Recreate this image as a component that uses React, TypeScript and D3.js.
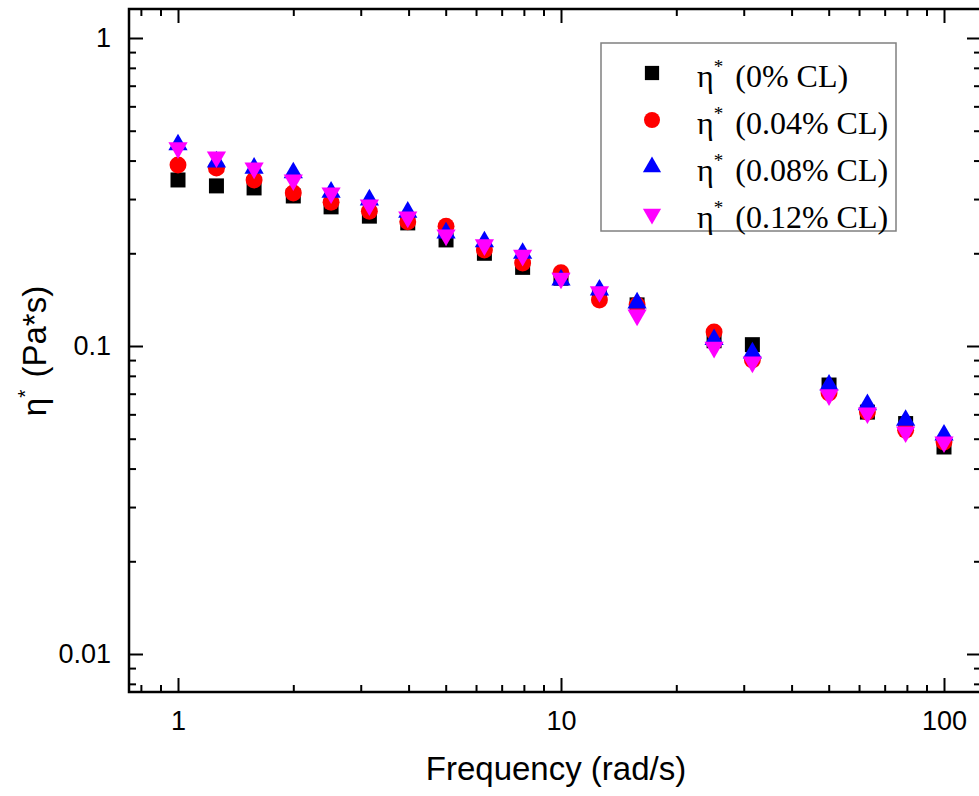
import React, { useRef, useEffect } from "react";
import * as d3 from "d3";

// angular frequency (rad/s)
const freq = [1, 1.26, 1.58, 2, 2.51, 3.16, 3.98, 5.01, 6.31, 7.94, 10, 12.6, 15.8, 25.1, 31.6, 50.1, 63.1, 79.4, 100];

// complex viscosity (Pa*s) per crosslinker content
const eta0 = [0.346, 0.331, 0.326, 0.307, 0.283, 0.264, 0.251, 0.221, 0.2, 0.18, 0.166, 0.146, 0.136, 0.104, 0.101, 0.0747, 0.061, 0.056, 0.047];
const eta004 = [0.387, 0.378, 0.346, 0.314, 0.293, 0.274, 0.253, 0.245, 0.205, 0.186, 0.173, 0.141, 0.136, 0.111, 0.09, 0.0704, 0.061, 0.0533, 0.0488];
const eta008 = [0.45, 0.396, 0.378, 0.365, 0.316, 0.298, 0.272, 0.233, 0.218, 0.2, 0.164, 0.152, 0.138, 0.105, 0.095, 0.0747, 0.0645, 0.0574, 0.0514];
const eta012 = [0.44, 0.411, 0.378, 0.346, 0.314, 0.287, 0.262, 0.229, 0.213, 0.197, 0.166, 0.15, 0.126, 0.099, 0.0887, 0.0694, 0.0606, 0.0526, 0.0488];

const seriesNames = ["(0% CL)", "(0.04% CL)", "(0.08% CL)", "(0.12% CL)"];

const xMajor = [1, 10, 100];
const xMinor = [0.8, 0.9, 2, 3, 4, 5, 6, 7, 8, 9, 20, 30, 40, 50, 60, 70, 80, 90];
const yMajor = [0.01, 0.1, 1];
const yMinor = [0.008, 0.009, 0.02, 0.03, 0.04, 0.05, 0.06, 0.07, 0.08, 0.09, 0.2, 0.3, 0.4, 0.5, 0.6, 0.7, 0.8, 0.9];

const W = 979;
const H = 796;
const left = 129, right = 981, top = 9, bottom = 692;

const App = () => {
  const svgRef = useRef(null);

  useEffect(() => {
    const svg = d3.select(svgRef.current);
    svg.selectAll("*").remove();

    const x = d3.scaleLog().domain([1, 100]).range([178, 944]);
    const y = d3.scaleLog().domain([0.01, 1]).range([654, 38]);

    const sans = "'Liberation Sans', Arial, sans-serif";
    const serif = "'Liberation Serif', 'Times New Roman', serif";

    // axes: ticks point inward on all four sides
    const addAxis = (gen, tx, ty, size, values, labels, pad) => {
      const g = svg.append("g").attr("transform", `translate(${tx},${ty})`);
      const ax = gen
        .tickValues(values)
        .tickSize(-size)
        .tickSizeOuter(0)
        .tickPadding(pad)
        .tickFormat(labels ? (d) => String(d) : () => "");
      g.call(ax);
      g.select(".domain").remove();
      g.selectAll(".tick line").attr("stroke", "#000").attr("stroke-width", 2);
      g.selectAll(".tick text").attr("fill", "#000").style("font-family", sans).style("font-size", "27px");
      return g;
    };

    addAxis(d3.axisBottom(x), 0, bottom, 14, xMajor, true, 19);
    addAxis(d3.axisBottom(x), 0, bottom, 7, xMinor, false, 0);
    addAxis(d3.axisTop(x), 0, top, 14, xMajor, false, 0);
    addAxis(d3.axisTop(x), 0, top, 7, xMinor, false, 0);
    addAxis(d3.axisLeft(y), left, 0, 14, yMajor, true, 18);
    addAxis(d3.axisLeft(y), left, 0, 7, yMinor, false, 0);
    addAxis(d3.axisRight(y), right, 0, 14, yMajor, false, 0);
    addAxis(d3.axisRight(y), right, 0, 7, yMinor, false, 0);

    svg.append("rect")
      .attr("x", left).attr("y", top)
      .attr("width", right - left).attr("height", bottom - top)
      .attr("fill", "none").attr("stroke", "#000").attr("stroke-width", 2.5);

    const series = [
      { values: eta0, color: "#000000", type: d3.symbolSquare, size: 225, rot: 0 },
      { values: eta004, color: "#ff0000", type: d3.symbolCircle, size: 225, rot: 0 },
      { values: eta008, color: "#0000ff", type: d3.symbolTriangle, size: 160, rot: 0 },
      { values: eta012, color: "#ff00ff", type: d3.symbolTriangle, size: 160, rot: 180 },
    ];

    series.forEach((s) => {
      const sym = d3.symbol().type(s.type).size(s.size);
      svg.append("g")
        .selectAll("path")
        .data(s.values)
        .join("path")
        .attr("d", sym)
        .attr("transform", (d, i) => `translate(${x(freq[i])},${y(d)}) rotate(${s.rot})`)
        .attr("fill", s.color);
    });

    // legend
    const lg = svg.append("g");
    lg.append("rect")
      .attr("x", 601).attr("y", 43).attr("width", 295).attr("height", 188)
      .attr("fill", "#fff").attr("stroke", "#808080").attr("stroke-width", 1.5);
    series.forEach((s, i) => {
      const cy = 73 + i * 47;
      lg.append("path")
        .attr("d", d3.symbol().type(s.type).size(s.size * 0.9)())
        .attr("transform", `translate(652,${cy}) rotate(${s.rot})`)
        .attr("fill", s.color);
      const t = lg.append("text")
        .attr("x", 697).attr("y", cy + 14)
        .style("font-family", serif).style("font-size", "32px").attr("fill", "#000");
      t.append("tspan").text("η");
      t.append("tspan").attr("dy", -14).style("font-size", "19px").text("*");
      t.append("tspan").attr("dy", 14).attr("dx", 4).text(" " + seriesNames[i]);
    });

    // axis titles
    svg.append("text")
      .attr("x", 556).attr("y", 780)
      .attr("text-anchor", "middle")
      .style("font-family", sans).style("font-size", "33px")
      .text("Frequency (rad/s)");

    const yt = svg.append("text")
      .attr("transform", "translate(46,351) rotate(-90)")
      .attr("text-anchor", "middle")
      .style("font-family", sans).style("font-size", "33px");
    yt.append("tspan").text("η");
    yt.append("tspan").attr("dy", -14).style("font-size", "21px").text("*");
    yt.append("tspan").attr("dy", 14).attr("dx", 3).text(" (Pa*s)");
  }, []);

  return (
    <svg
      ref={svgRef}
      width={W}
      height={H}
      style={{ position: "absolute", left: 0, top: 0, background: "#fff", display: "block" }}
    />
  );
};

export default App;
